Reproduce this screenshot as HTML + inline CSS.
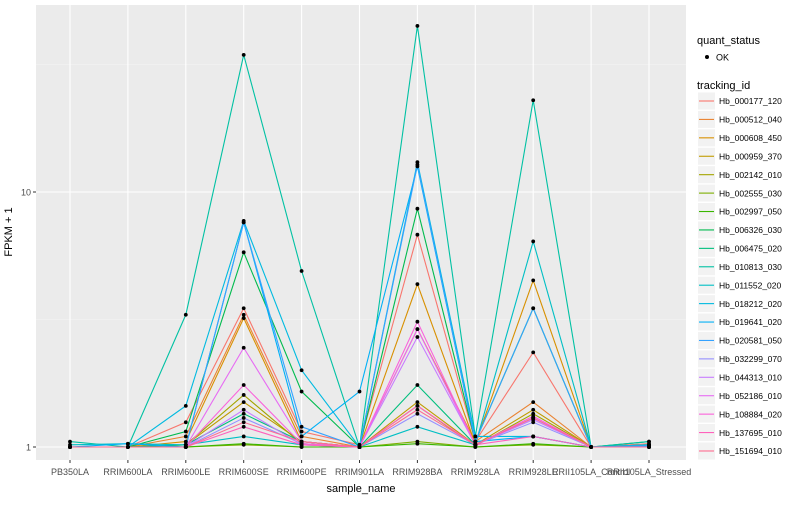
<!DOCTYPE html>
<html><head><meta charset="utf-8"><style>
body{margin:0;background:#fff;font-family:"Liberation Sans",sans-serif}
svg text{font-family:"Liberation Sans",sans-serif}
</style></head><body>
<svg id="chart" width="800" height="500" xmlns="http://www.w3.org/2000/svg">
<rect x="36" y="5" width="650" height="455" fill="#EBEBEB"/>
<g id="grid"></g><g id="lines"></g><g id="pts"></g><g id="axes"></g><g id="legend"></g>
<text x="12" y="232" font-size="11" fill="#000" transform="rotate(-90 12 232)" text-anchor="middle">FPKM + 1</text>
<text x="361" y="492" font-size="11" fill="#000" text-anchor="middle">sample_name</text>
</svg>
<script>
const categories=["PB350LA","RRIM600LA","RRIM600LE","RRIM600SE","RRIM600PE","RRIM901LA","RRIM928BA","RRIM928LA","RRIM928LE","RRII105LA_Control","RRII105LA_Stressed"];
const trackingIds=["Hb_000177_120","Hb_000512_040","Hb_000608_450","Hb_000959_370","Hb_002142_010","Hb_002555_030","Hb_002997_050","Hb_006326_030","Hb_006475_020","Hb_010813_030","Hb_011552_020","Hb_018212_020","Hb_019641_020","Hb_020581_050","Hb_032299_070","Hb_044313_010","Hb_052186_010","Hb_108884_020","Hb_137695_010","Hb_151694_010"];
const colors=["#F8766D","#EA8331","#D89000","#C09B00","#A3A500","#7CAE00","#39B600","#00BB4E","#00BF7D","#00C1A3","#00BFC4","#00BAE0","#00B0F6","#35A2FF","#9590FF","#C77CFF","#E76BF3","#FA62DB","#FF62BC","#FF6C91"];
const s1=[1,1,1.25,3.5,1.15,1.02,6.8,1.05,2.35,1,1.03];
const s2=[1,1,1.1,3.3,1.1,1,2.9,1.05,1.5,1,1.02];
const s3=[1,1,1.05,3.2,1.05,1,4.35,1.03,4.5,1,1.02];
const s4=[1,1,1.02,1.5,1.05,1,1.5,1.02,1.4,1,1.01];
const s5=[1,1,1.02,1.6,1.03,1,1.45,1.01,1.35,1,1];
const s6=[1,1,1,1.02,1,1,1.05,1,1.02,1,1];
const s7=[1,1,1,1.03,1,1,1.03,1,1.03,1,1];
const s8=[1,1,1.15,5.8,1.65,1,8.6,1.05,3.5,1,1.05];
const s9=[1,1,1.02,1.35,1.05,1,1.75,1.02,1.3,1,1];
const s10=[1.05,1,3.3,34.5,4.9,1,44.8,1.1,22.9,1,1.05];
const s11=[1.02,1.03,1.02,1.1,1.02,1,1.2,1.02,6.4,1,1.02];
const s12=[1,1,1.45,7.7,2.0,1,13.1,1.1,1.1,1,1.02];
const s13=[1,1.03,1,7.6,1.1,1.65,12.6,1.05,1.1,1,1.01];
const s14=[1,1,1,7.6,1.2,1,12.8,1.05,3.5,1,1.01];
const s15=[1,1,1,1.3,1.03,1,1.35,1.02,1.25,1,1];
const s16=[1,1,1,1.4,1.02,1,2.7,1.02,1.28,1,1];
const s17=[1,1,1,2.45,1.05,1,2.9,1.02,1.3,1,1];
const s18=[1,1,1,1.75,1.03,1,3.1,1.02,1.32,1,1];
const s19=[1,1,1,1.2,1.02,1,1.45,1.02,1.1,1,1];
const s20=[1,1,1,1.25,1.05,1,1.4,1.02,1.3,1,1];
const series=[s1,s2,s3,s4,s5,s6,s7,s8,s9,s10,s11,s12,s13,s14,s15,s16,s17,s18,s19,s20];
const yTicks=[1,10];
const yMinor=[Math.sqrt(10),Math.sqrt(1000)];

const NS="http://www.w3.org/2000/svg";
const X0=70,DX=57.9;
const xs=i=>X0+i*DX;
const ys=v=>447-255*Math.log10(v);
function mk(tag,attrs,parent){const e=document.createElementNS(NS,tag);for(const k in attrs)e.setAttribute(k,attrs[k]);document.getElementById(parent).appendChild(e);return e;}

yMinor.forEach(v=>{const l=mk('line',{x1:36,x2:686,y1:ys(v),y2:ys(v),stroke:'#F5F5F5','stroke-width':0.6},'grid');

});
yTicks.forEach(v=>{const l=mk('line',{x1:36,x2:686,y1:ys(v),y2:ys(v),stroke:'#fff','stroke-width':1.1},'grid');


const t=mk('text',{x:31,y:ys(v)+3.5,'font-size':9,fill:'#4D4D4D','text-anchor':'end'},'axes');t.textContent=v;


const tk=mk('line',{x1:33,x2:36,y1:ys(v),y2:ys(v),stroke:'#333'},'axes');

});
categories.forEach((c,i)=>{const l=mk('line',{x1:xs(i),x2:xs(i),y1:5,y2:460,stroke:'#fff','stroke-width':1.1},'grid');


const tk=mk('line',{x1:xs(i),x2:xs(i),y1:460,y2:463,stroke:'#333'},'axes');


const t=mk('text',{x:xs(i),y:475,'font-size':9,fill:'#4D4D4D','text-anchor':'middle'},'axes');t.textContent=c;

});

series.forEach((s,si)=>{const p=mk('polyline',{points:s.map((v,i)=>xs(i)+','+ys(v)).join(' '),fill:'none',stroke:colors[si],'stroke-width':1.1},'lines');


s.forEach((v,i)=>{const r=mk('circle',{cx:xs(i),cy:ys(v),r:1.9,fill:'#000'},'pts');

});});

let t=mk('text',{x:697,y:44,'font-size':11,fill:'#000'},'legend');t.textContent='quant_status';


let c=mk('circle',{cx:707,cy:57,r:2,fill:'#000'},'legend');


t=mk('text',{x:716,y:60.5,'font-size':9,fill:'#000'},'legend');t.textContent='OK';


t=mk('text',{x:697,y:89,'font-size':11,fill:'#000'},'legend');t.textContent='tracking_id';


trackingIds.forEach((id,i)=>{const y=101+i*18.42;
const bg=mk('rect',{x:698,y:y-8.5,width:17,height:17,fill:'#F2F2F2'},'legend');


const l=mk('line',{x1:699,x2:714,y1:y,y2:y,stroke:colors[i],'stroke-width':1.1},'legend');


const tt=mk('text',{x:719,y:y+3.2,'font-size':8.5,fill:'#000'},'legend');tt.textContent=id;

});
</script>
</body></html>
